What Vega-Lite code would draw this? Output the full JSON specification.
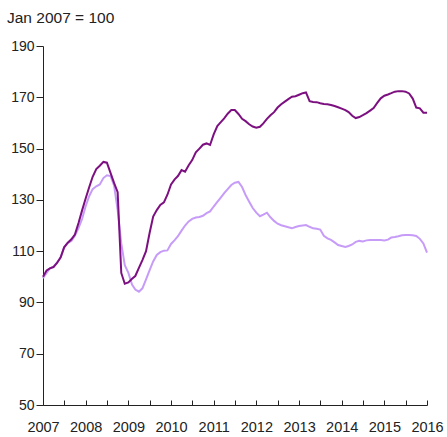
{
  "$schema": "https://vega.github.io/schema/vega-lite/v6.json",
  "width": 384,
  "height": 359,
  "autosize": "none",
  "padding": {"left": 43, "top": 46, "right": 20, "bottom": 32},
  "background": "white",
  "title": {"text": "Jan 2007 = 100", "anchor": "start", "frame": "group", "dx": -36, "fontSize": 15.5, "font": "Liberation Sans", "fontWeight": "normal", "color": "#222", "baseline": "alphabetic", "offset": 1},
  "config": {"view": {"stroke": null}, "axis": {"labelFont": "Liberation Sans", "labelColor": "#222", "grid": false, "domainColor": "#222", "tickColor": "#222"}},
  "data": {"values": [
    {"date":"2007-01-01","a":100,"b":99.5},{"date":"2007-02-01","a":102.5,"b":101.5},{"date":"2007-03-01","a":103.3,"b":103.3},{"date":"2007-04-01","a":103.8,"b":104},{"date":"2007-05-01","a":105.4,"b":105.5},{"date":"2007-06-01","a":107.6,"b":107.5},{"date":"2007-07-01","a":111.5,"b":111.5},{"date":"2007-08-01","a":113.3,"b":113.2},{"date":"2007-09-01","a":114.6,"b":114},{"date":"2007-10-01","a":116.5,"b":116},{"date":"2007-11-01","a":121,"b":119},{"date":"2007-12-01","a":125.8,"b":122.5},
    {"date":"2008-01-01","a":130.5,"b":127.5},{"date":"2008-02-01","a":135,"b":131.5},{"date":"2008-03-01","a":139,"b":134.2},{"date":"2008-04-01","a":142,"b":135.3},{"date":"2008-05-01","a":143.3,"b":136},{"date":"2008-06-01","a":144.8,"b":138.5},{"date":"2008-07-01","a":144.5,"b":139.6},{"date":"2008-08-01","a":140.5,"b":139.3},{"date":"2008-09-01","a":136.5,"b":135.5},{"date":"2008-10-01","a":133,"b":126},{"date":"2008-11-01","a":101.5,"b":113},{"date":"2008-12-01","a":97.3,"b":104.5},
    {"date":"2009-01-01","a":97.8,"b":101.5},{"date":"2009-02-01","a":99.2,"b":97},{"date":"2009-03-01","a":100.3,"b":95},{"date":"2009-04-01","a":103.5,"b":94.2},{"date":"2009-05-01","a":106.5,"b":95.5},{"date":"2009-06-01","a":110,"b":99},{"date":"2009-07-01","a":117,"b":102.5},{"date":"2009-08-01","a":123.5,"b":106},{"date":"2009-09-01","a":126,"b":108.5},{"date":"2009-10-01","a":128,"b":109.6},{"date":"2009-11-01","a":129,"b":110.2},{"date":"2009-12-01","a":132,"b":110.3},
    {"date":"2010-01-01","a":136,"b":112.8},{"date":"2010-02-01","a":138,"b":114.3},{"date":"2010-03-01","a":139.3,"b":115.8},{"date":"2010-04-01","a":141.6,"b":118},{"date":"2010-05-01","a":141,"b":120},{"date":"2010-06-01","a":143.5,"b":121.6},{"date":"2010-07-01","a":145.5,"b":122.6},{"date":"2010-08-01","a":148.5,"b":123.1},{"date":"2010-09-01","a":150,"b":123.3},{"date":"2010-10-01","a":151.5,"b":123.8},{"date":"2010-11-01","a":152,"b":124.8},{"date":"2010-12-01","a":151.4,"b":125.5},
    {"date":"2011-01-01","a":155.5,"b":127.4},{"date":"2011-02-01","a":158.8,"b":129.2},{"date":"2011-03-01","a":160.2,"b":130.8},{"date":"2011-04-01","a":161.8,"b":132.6},{"date":"2011-05-01","a":163.6,"b":134.2},{"date":"2011-06-01","a":165,"b":135.8},{"date":"2011-07-01","a":165,"b":136.7},{"date":"2011-08-01","a":163.5,"b":137},{"date":"2011-09-01","a":161.6,"b":135},{"date":"2011-10-01","a":160.7,"b":131.9},{"date":"2011-11-01","a":159.5,"b":129.3},{"date":"2011-12-01","a":158.6,"b":126.8},
    {"date":"2012-01-01","a":158.1,"b":125},{"date":"2012-02-01","a":158.5,"b":123.6},{"date":"2012-03-01","a":159.8,"b":124.2},{"date":"2012-04-01","a":161.6,"b":125},{"date":"2012-05-01","a":163,"b":123.2},{"date":"2012-06-01","a":164.2,"b":121.8},{"date":"2012-07-01","a":166,"b":120.7},{"date":"2012-08-01","a":167.3,"b":120.1},{"date":"2012-09-01","a":168.3,"b":119.7},{"date":"2012-10-01","a":169.3,"b":119.3},{"date":"2012-11-01","a":170.2,"b":118.9},{"date":"2012-12-01","a":170.4,"b":119.4},
    {"date":"2013-01-01","a":171,"b":119.8},{"date":"2013-02-01","a":171.6,"b":120},{"date":"2013-03-01","a":171.9,"b":120.2},{"date":"2013-04-01","a":168.5,"b":119.5},{"date":"2013-05-01","a":168.2,"b":118.9},{"date":"2013-06-01","a":168.1,"b":118.7},{"date":"2013-07-01","a":167.7,"b":118.4},{"date":"2013-08-01","a":167.4,"b":116},{"date":"2013-09-01","a":167.3,"b":115},{"date":"2013-10-01","a":167,"b":114.4},{"date":"2013-11-01","a":166.6,"b":113.4},{"date":"2013-12-01","a":166.1,"b":112.4},
    {"date":"2014-01-01","a":165.6,"b":112},{"date":"2014-02-01","a":165,"b":111.6},{"date":"2014-03-01","a":164.2,"b":112},{"date":"2014-04-01","a":162.8,"b":112.6},{"date":"2014-05-01","a":161.9,"b":113.6},{"date":"2014-06-01","a":162.3,"b":114},{"date":"2014-07-01","a":163,"b":113.8},{"date":"2014-08-01","a":163.8,"b":114.2},{"date":"2014-09-01","a":164.8,"b":114.3},{"date":"2014-10-01","a":165.8,"b":114.3},{"date":"2014-11-01","a":167.8,"b":114.3},{"date":"2014-12-01","a":169.6,"b":114.3},
    {"date":"2015-01-01","a":170.6,"b":114.2},{"date":"2015-02-01","a":171.1,"b":114.5},{"date":"2015-03-01","a":171.6,"b":115.3},{"date":"2015-04-01","a":172.2,"b":115.5},{"date":"2015-05-01","a":172.4,"b":115.8},{"date":"2015-06-01","a":172.4,"b":116.2},{"date":"2015-07-01","a":172.2,"b":116.3},{"date":"2015-08-01","a":171.5,"b":116.3},{"date":"2015-09-01","a":169.5,"b":116.2},{"date":"2015-10-01","a":166,"b":115.9},{"date":"2015-11-01","a":165.7,"b":114.8},{"date":"2015-12-01","a":164,"b":113},
    {"date":"2016-01-01","a":164,"b":109.4}
  ]},
  "encoding": {
    "x": {"field": "date", "type": "temporal",
      "scale": {"type": "utc", "domain": [{"year": 2007, "month": 1, "date": 1, "utc": true}, {"year": 2016, "month": 1, "date": 1, "utc": true}]},
      "axis": {"title": null, "tickCount": {"interval": "month", "step": 6}, "labelExpr": "utcmonth(datum.value) == 0 ? utcFormat(datum.value, '%Y') : ''", "tickSize": -5, "labelFontSize": 14.5, "labelPadding": 20, "labelFlush": false, "labelOverlap": false, "labelAlign": "center"}}
  },
  "layer": [
    {"mark": {"type": "line", "color": "#c69cf8", "strokeWidth": 2},
     "encoding": {"y": {"field": "b", "type": "quantitative", "scale": {"domain": [50, 190], "zero": false, "nice": false},
       "axis": {"title": null, "values": [50, 70, 90, 110, 130, 150, 170, 190], "tickSize": 7, "labelFontSize": 14, "labelPadding": 2}}}},
    {"mark": {"type": "line", "color": "#7d1080", "strokeWidth": 2},
     "encoding": {"y": {"field": "a", "type": "quantitative"}}}
  ]
}
